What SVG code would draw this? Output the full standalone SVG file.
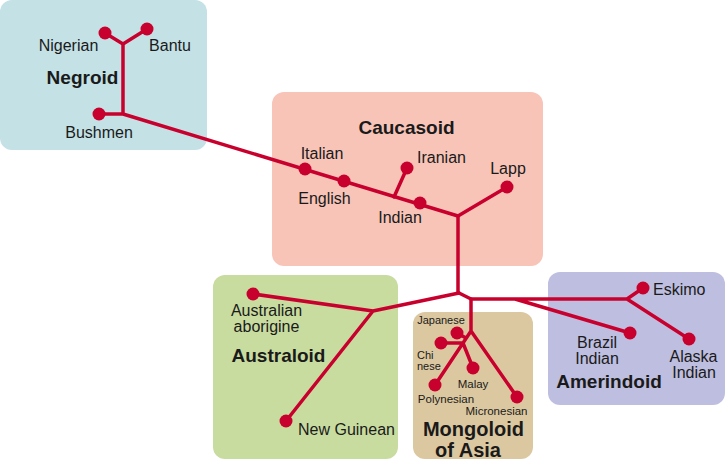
<svg xmlns="http://www.w3.org/2000/svg" width="725" height="459" viewBox="0 0 725 459">
<style>
.box{stroke:none}
.ln{fill:none;stroke:#c8002d;stroke-width:3.5;stroke-linejoin:round;stroke-linecap:round}
.dot{fill:#c8002d}
text{font-family:"Liberation Sans",Arial,sans-serif;fill:#1a1a1a}
.lb{font-size:16px;text-anchor:middle}
.sm{font-size:11.5px;text-anchor:middle}
.tt{font-size:19px;font-weight:bold;text-anchor:middle}
</style>
<rect width="725" height="459" fill="#ffffff"/>
<g id="negroid">
<rect class="box" x="0" y="0" width="207" height="150" rx="12" fill="#c4e1e6"/>
<text class="tt" x="82.5" y="84">Negroid</text>
</g>
<g id="caucasoid">
<rect class="box" x="272" y="92" width="271" height="174" rx="12" fill="#f8c4b8"/>
<text class="tt" x="406.5" y="134">Caucasoid</text>
</g>
<g id="australoid">
<rect class="box" x="213" y="275" width="185" height="184" rx="12" fill="#c8dca0"/>
<text class="tt" x="278.5" y="362">Australoid</text>
</g>
<g id="mongoloid">
<rect class="box" x="413" y="312" width="120" height="147" rx="12" fill="#dcc8a0"/>
<text class="tt" x="473.5" y="436" style="font-size:20px">Mongoloid</text>
<text class="tt" x="468" y="456.5" style="font-size:20px">of Asia</text>
</g>
<g id="amerindoid">
<rect class="box" x="548" y="272" width="177" height="133" rx="12" fill="#bebee0"/>
<text class="tt" x="609" y="388">Amerindoid</text>
</g>
<g id="connectors">
<path class="ln" d="M105,33 L123,44 L147,29 M123,44 V114 M99,114 H123 L458,216"/>
<path class="ln" d="M394,197 L407,168 M458,216 L507,187 M458,216 V293"/>
<path class="ln" d="M459,293 L373,311 L253,294 M373,311 L286,421"/>
<path class="ln" d="M459,293 L471,299 H627 M515,299 L630,333 M627,299 L643,288 M627,299 L689,339"/>
<path class="ln" d="M471,299 V331 L517,397 M471,331 L435,385 M441,343 H463 L473,368 M457,333 L466,338"/>
</g>
<g id="nigerian"><circle class="dot" cx="105" cy="33" r="6.5"/><text class="lb" x="68.5" y="51">Nigerian</text></g>
<g id="bantu"><circle class="dot" cx="147" cy="29" r="6.5"/><text class="lb" x="170" y="51">Bantu</text></g>
<g id="bushmen"><circle class="dot" cx="99" cy="114" r="6.5"/><text class="lb" x="99" y="138">Bushmen</text></g>
<g id="italian"><circle class="dot" cx="305" cy="169" r="6.5"/><text class="lb" x="322" y="159">Italian</text></g>
<g id="english"><circle class="dot" cx="344" cy="181" r="6.5"/><text class="lb" x="324.5" y="204">English</text></g>
<g id="iranian"><circle class="dot" cx="407" cy="168" r="6.5"/><text class="lb" x="441.5" y="163">Iranian</text></g>
<g id="indian"><circle class="dot" cx="420" cy="203" r="6.5"/><text class="lb" x="400" y="223">Indian</text></g>
<g id="lapp"><circle class="dot" cx="507" cy="187" r="6.5"/><text class="lb" x="508" y="174">Lapp</text></g>
<g id="australian"><circle class="dot" cx="253" cy="294" r="6.5"/><text class="lb" x="266.5" y="315.5">Australian</text><text class="lb" x="266.5" y="331.5">aborigine</text></g>
<g id="newguinean"><circle class="dot" cx="286" cy="421" r="6.5"/><text class="lb" x="346.5" y="435">New Guinean</text></g>
<g id="japanese"><circle class="dot" cx="457" cy="333" r="6.5"/><text class="sm" x="441" y="324" style="font-size:11px">Japanese</text></g>
<g id="chinese"><circle class="dot" cx="441" cy="343" r="6.5"/><text class="sm" x="417" y="359" style="text-anchor:start;font-size:11px">Chi</text><text class="sm" x="417" y="370" style="text-anchor:start;font-size:11px">nese</text></g>
<g id="malay"><circle class="dot" cx="473" cy="368" r="6.5"/><text class="sm" x="473" y="388">Malay</text></g>
<g id="polynesian"><circle class="dot" cx="435" cy="385" r="6.5"/><text class="sm" x="446" y="403">Polynesian</text></g>
<g id="micronesian"><circle class="dot" cx="517" cy="397" r="6.5"/><text class="sm" x="496.5" y="415">Micronesian</text></g>
<g id="eskimo"><circle class="dot" cx="643" cy="288" r="6.5"/><text class="lb" x="653" y="295" style="text-anchor:start">Eskimo</text></g>
<g id="brazil"><circle class="dot" cx="630" cy="333" r="6.5"/><text class="lb" x="597" y="348">Brazil</text><text class="lb" x="597" y="364">Indian</text></g>
<g id="alaska"><circle class="dot" cx="689" cy="339" r="6.5"/><text class="lb" x="693.5" y="361.5">Alaska</text><text class="lb" x="694" y="377.5">Indian</text></g>
</svg>
